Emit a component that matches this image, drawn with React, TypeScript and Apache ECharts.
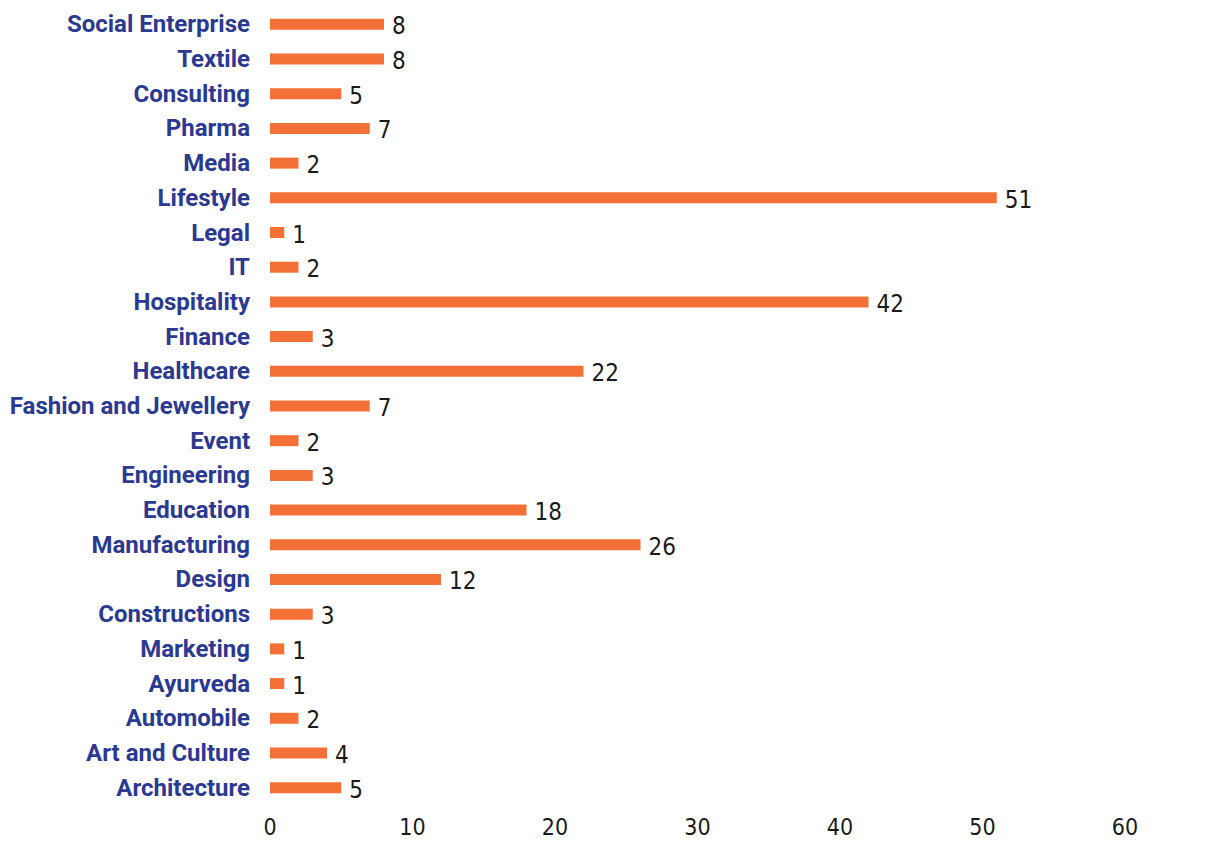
import React, { useEffect, useRef } from "react";
import * as echarts from "echarts";

const categories = [
  "Social Enterprise", "Textile", "Consulting", "Pharma", "Media", "Lifestyle",
  "Legal", "IT", "Hospitality", "Finance", "Healthcare", "Fashion and Jewellery",
  "Event", "Engineering", "Education", "Manufacturing", "Design", "Constructions",
  "Marketing", "Ayurveda", "Automobile", "Art and Culture", "Architecture",
];
const values = [8, 8, 5, 7, 2, 51, 1, 2, 42, 3, 22, 7, 2, 3, 18, 26, 12, 3, 1, 1, 2, 4, 5];
const xTicks = { min: 0, max: 60, interval: 10 };

const narrow = "'Liberation Sans Narrow', 'Arial Narrow', 'DejaVu Sans Condensed', sans-serif";

export default function App() {
  const ref = useRef<HTMLDivElement>(null);
  useEffect(() => {
    if (!ref.current) return;
    const chart = echarts.init(ref.current, null, { renderer: "svg" });
    chart.setOption({
      animation: false,
      backgroundColor: "#ffffff",
      grid: { left: 270, right: 85, top: 7, bottom: 36, containLabel: false },
      xAxis: {
        type: "value",
        min: xTicks.min,
        max: xTicks.max,
        interval: xTicks.interval,
        splitLine: { show: false },
        axisLine: { show: false },
        axisTick: { show: false },
        axisLabel: {
          margin: 10,
          fontSize: 23,
          fontFamily: narrow,
          color: "#1a1a1a",
        },
      },
      yAxis: {
        type: "category",
        data: categories,
        inverse: true,
        axisLine: { show: false },
        axisTick: { show: false },
        axisLabel: {
          margin: 20,
          fontSize: 24,
          fontWeight: "bold",
          fontFamily: "Roboto, sans-serif",
          color: "#2B3990",
        },
      },
      series: [
        {
          type: "bar",
          data: values,
          barWidth: 11,
          itemStyle: { color: "#F37136" },
          label: {
            show: true,
            position: "right",
            distance: 8,
            offset: [0, 2],
            fontSize: 24,
            fontFamily: narrow,
            color: "#1a1a1a",
          },
        },
      ],
    });
    return () => chart.dispose();
  }, []);
  return (
    <div
      ref={ref}
      style={{ position: "fixed", left: 0, top: 0, width: 1210, height: 841 }}
    />
  );
}
